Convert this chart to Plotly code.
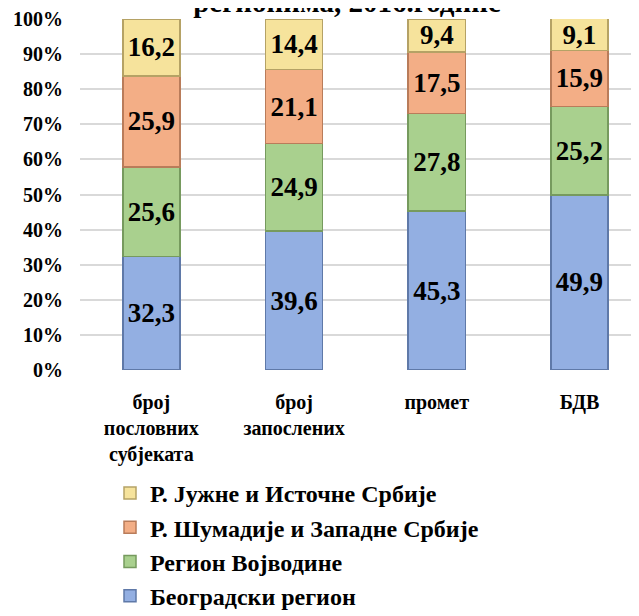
import plotly.graph_objects as go

categories = ["број<br>пословних<br>субјеката", "број<br>запослених", "промет", "БДВ"]
series_names = ["Београдски регион", "Регион Војводине",
                "Р. Шумадије и Западне Србије", "Р. Јужне и Источне Србије"]
beograd = [32.3, 39.6, 45.3, 49.9]
vojvodina = [25.6, 24.9, 27.8, 25.2]
sumadija = [25.9, 21.1, 17.5, 15.9]
juzna = [16.2, 14.4, 9.4, 9.1]
colors = ["#93AFE2", "#A9D08E", "#F3AE86", "#F6E39C"]
edges = ["#5F79A8", "#769A5E", "#B97C5A", "#B5A265"]
title_text = "регионима, 2016.године"
y_ticks = [0, 10, 20, 30, 40, 50, 60, 70, 80, 90, 100]
y_tick_labels = [f"{v}%" for v in y_ticks]

FONT = "Liberation Serif, Times New Roman, DejaVu Serif, serif"
W, H = 639, 616
OFF = 8  # page body margin
ML, MR, MT, MB = 80 - OFF, 0, 19 - OFF, H - (370 - OFF)
PW, PH = W - ML - MR, H - MT - MB
UNIT = 142.7
x_hi = -0.5 + PW / UNIT

fig = go.Figure()
for name, vals, col, edge in zip(series_names, [beograd, vojvodina, sumadija, juzna], colors, edges):
    fig.add_trace(go.Bar(
        x=categories, y=vals, name=name,
        marker=dict(color=col, line=dict(color=edge, width=1.5)),
        text=[f"{v:.1f}".replace(".", ",") for v in vals],
        textposition="inside", insidetextanchor="middle",
        constraintext="none", textangle=0,
        textfont=dict(family=FONT, size=27, color="black", weight="bold"),
        width=0.4,
    ))

fig.update_layout(
    barmode="stack",
    width=W, height=H,
    margin=dict(l=ML, r=MR, t=MT, b=MB, autoexpand=False),
    plot_bgcolor="white", paper_bgcolor="white",
    font=dict(family=FONT, size=20, color="black", weight="bold"),
    showlegend=True,
    legend=dict(
        orientation="v", traceorder="reversed",
        x=(102 - ML) / PW, y=(MT + PH - 463) / PH, xanchor="left", yanchor="top",
        font=dict(family=FONT, size=24, color="black", weight="bold"),
        itemwidth=30, tracegroupgap=0,
    ),
    title=dict(
        text=title_text, xref="container", yref="container",
        x=(347 - OFF) / W, y=1 - 4 / H, xanchor="center", yanchor="bottom",
        font=dict(family=FONT, size=29, color="black", weight="bold"),
        automargin=False,
    ),
)
fig.update_xaxes(
    range=[-0.5, x_hi], showgrid=False, showline=False, zeroline=False,
    tickfont=dict(family=FONT, size=20, color="black", weight="bold"),
    ticks="outside", ticklen=14, tickcolor="rgba(0,0,0,0)", tickangle=0,
    automargin=False,
)
fig.update_yaxes(
    range=[0, 100], tickvals=y_ticks, ticktext=y_tick_labels,
    showgrid=True, gridcolor="#D9D9D9", gridwidth=1.5, zeroline=False,
    tickfont=dict(family=FONT, size=20, color="black", weight="bold"),
    ticklabelstandoff=16, automargin=False,
)
fig.write_html("out.html")
